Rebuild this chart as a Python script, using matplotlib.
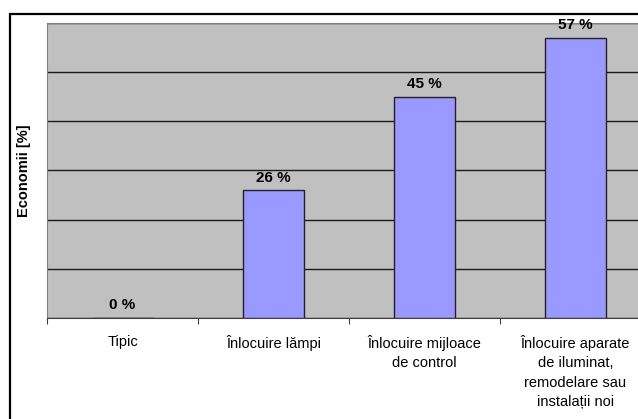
import matplotlib.pyplot as plt
from matplotlib.patches import Rectangle

categorii = ["Tipic", "Înlocuire lămpi", "Înlocuire mijloace\nde control",
             "Înlocuire aparate\nde iluminat,\nremodelare sau\ninstalații noi"]
economii = [0, 26, 45, 57]

plt.rcParams['font.family'] = ['Liberation Sans', 'DejaVu Sans']

fig = plt.figure(figsize=(6.38, 4.19), dpi=100)
W, H = 638, 419
# axes runs past the right edge, as in the reference
ax = fig.add_axes([47 / W, 101 / H, 604 / W, 295 / H])
ax.set_facecolor('#C0C0C0')

x = list(range(len(categorii)))
bars = ax.bar(x, economii, width=0.4, color='#9999FF', edgecolor='#222222',
              linewidth=1, zorder=3)
for b, v in zip(bars, economii):
    ax.annotate(f"{v} %", (b.get_x() + b.get_width() / 2, v),
                xytext=(0, 4), textcoords='offset points', ha='center',
                va='bottom', fontsize=11, fontweight='bold', zorder=4)

ax.set_xlim(-0.5, 3.5)
ax.set_ylim(0, 60)
ax.set_yticks(range(0, 61, 10))
ax.set_yticklabels([])
ax.tick_params(axis='y', length=0)
ax.yaxis.grid(True, color='#1a1a1a', linewidth=1, zorder=1)
ax.set_axisbelow(True)

ax.set_xticks([-0.5, 0.5, 1.5, 2.5])
ax.set_xticklabels([])
ax.tick_params(axis='x', which='major', direction='out', length=4,
               color='#404040')
ax.set_xticks(x, minor=True)
ax.set_xticklabels(categorii, minor=True, fontsize=10.5, linespacing=1.5)
ax.tick_params(axis='x', which='minor', length=0, pad=12)

for s in ['top', 'left', 'right']:
    ax.spines[s].set_color('#808080')
ax.spines['bottom'].set_color('#404040')

ax.set_ylabel("Economii [%]", fontsize=10.5, fontweight='bold', labelpad=8)

fig.patches.append(Rectangle((10 / W, -0.1), 1.2, 1 - 14 / H + 0.1,
                             transform=fig.transFigure, fill=False,
                             edgecolor='black', linewidth=1.6, zorder=0))

fig.savefig('out.png', dpi=100)
